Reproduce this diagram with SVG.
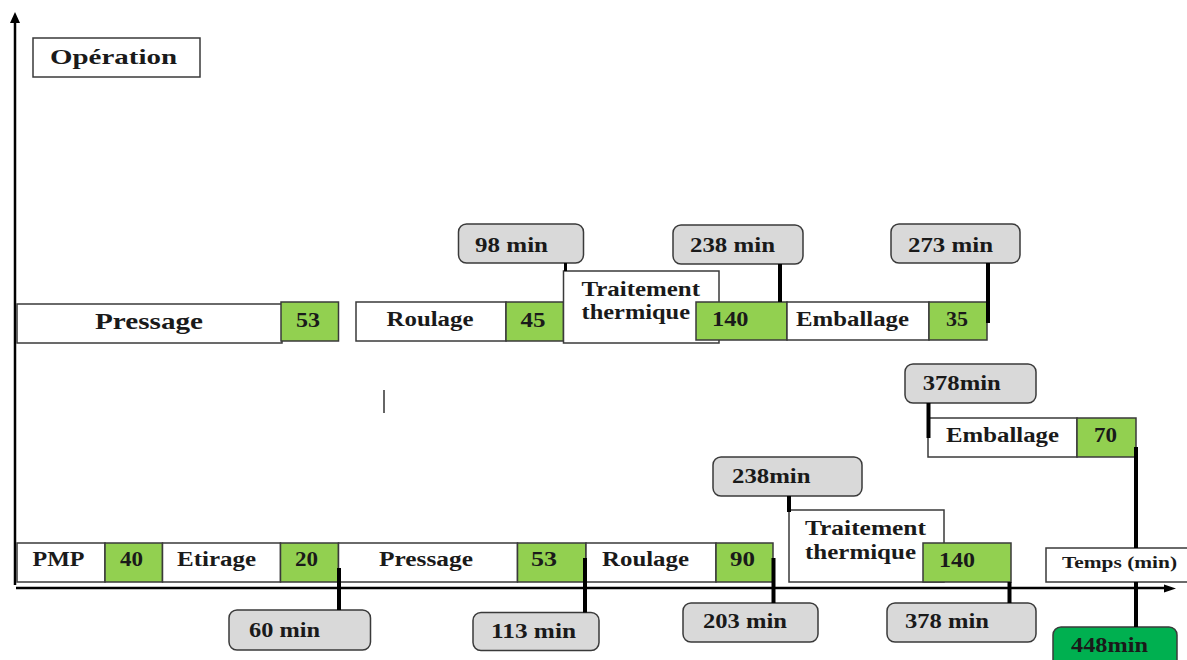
<svg xmlns="http://www.w3.org/2000/svg" width="1187" height="660" viewBox="0 0 1187 660">
<style>
.w{fill:#ffffff;stroke:#3a3a3a;stroke-width:1.5}
.g{fill:#92d050;stroke:#3a3a3a;stroke-width:1.5}
.c{fill:#d9d9d9;stroke:#3a3a3a;stroke-width:1.5}
.dg{fill:#00b050;stroke:#3a3a3a;stroke-width:1.5}
text{font-family:"Liberation Serif","Times New Roman",serif;font-weight:bold;font-size:20px;fill:#1a1a1a}
.big{font-size:24px}
.op{font-size:22px}
.sm{font-size:17px}
.k{stroke:#000;stroke-width:4;fill:none}
.ax{stroke:#000;stroke-width:2.5;fill:none}
</style>
<rect width="1187" height="660" fill="#ffffff"/>

<g id="axes">
<line class="ax" x1="15" y1="585" x2="15" y2="20"/>
<polygon points="15,12 10,23 20,23" fill="#000"/>
<line class="ax" x1="16" y1="588" x2="1166" y2="588"/>
<polygon points="1176,588.5 1164,584.5 1164,592.5" fill="#000"/>
</g>

<g id="operation-label">
<rect class="w" x="33" y="38" width="167" height="39"/>
<text class="op" x="50" y="64" textLength="127" lengthAdjust="spacingAndGlyphs">Opération</text>
</g>

<!-- top row -->
<g id="top-pressage">
<rect class="w" x="17" y="304" width="265" height="39"/>
<text class="big" x="95" y="329" textLength="108" lengthAdjust="spacingAndGlyphs">Pressage</text>
</g>
<g id="top-pressage-dur">
<rect class="g" x="281" y="302" width="57.5" height="39"/>
<text x="296" y="327" textLength="24" lengthAdjust="spacingAndGlyphs">53</text>
</g>
<g id="top-roulage">
<rect class="w" x="356" y="302" width="150" height="39"/>
<text x="386.5" y="326" textLength="87" lengthAdjust="spacingAndGlyphs">Roulage</text>
</g>
<g id="top-roulage-dur">
<rect class="g" x="506" y="302" width="57.5" height="39"/>
<text x="520.5" y="327" textLength="25" lengthAdjust="spacingAndGlyphs">45</text>
</g>
<g id="top-traitement">
<rect class="w" x="563.5" y="271" width="155.5" height="72"/>
<text x="581.5" y="296" textLength="118.5" lengthAdjust="spacingAndGlyphs">Traitement</text>
<text x="581.5" y="318.5" textLength="108.5" lengthAdjust="spacingAndGlyphs">thermique</text>
</g>
<g id="top-traitement-dur">
<rect class="g" x="696" y="302" width="91" height="38"/>
<text x="712" y="326" textLength="36.5" lengthAdjust="spacingAndGlyphs">140</text>
</g>
<g id="top-emballage">
<rect class="w" x="787" y="302" width="142" height="38"/>
<text x="796" y="326" textLength="113" lengthAdjust="spacingAndGlyphs">Emballage</text>
</g>
<g id="top-emballage-dur">
<rect class="g" x="929" y="302" width="58" height="38"/>
<text x="946" y="326" textLength="22" lengthAdjust="spacingAndGlyphs">35</text>
</g>
<g id="t98">
<rect class="c" x="458.5" y="224" width="125" height="39" rx="8"/>
<text x="475" y="251.5" textLength="73" lengthAdjust="spacingAndGlyphs">98 min</text>
</g>
<g id="t238a">
<rect class="c" x="673" y="225" width="130" height="39" rx="8"/>
<text x="690" y="251.5" textLength="85" lengthAdjust="spacingAndGlyphs">238 min</text>
</g>
<g id="t273">
<rect class="c" x="891" y="224" width="129" height="39" rx="8"/>
<text x="908" y="251.5" textLength="85" lengthAdjust="spacingAndGlyphs">273 min</text>
</g>

<!-- bottom row -->
<g id="b-pmp">
<rect class="w" x="17" y="543" width="88" height="39"/>
<text x="32.5" y="566" textLength="52" lengthAdjust="spacingAndGlyphs">PMP</text>
</g>
<g id="b-pmp-dur">
<rect class="g" x="105" y="543" width="57.5" height="39"/>
<text x="120" y="566" textLength="23" lengthAdjust="spacingAndGlyphs">40</text>
</g>
<g id="b-etirage">
<rect class="w" x="162.5" y="543" width="118" height="39"/>
<text x="177" y="566" textLength="79" lengthAdjust="spacingAndGlyphs">Etirage</text>
</g>
<g id="b-etirage-dur">
<rect class="g" x="280.5" y="543" width="58" height="39"/>
<text x="295" y="566" textLength="23" lengthAdjust="spacingAndGlyphs">20</text>
</g>
<g id="b-pressage">
<rect class="w" x="338.5" y="543" width="179" height="39"/>
<text x="379" y="566" textLength="94" lengthAdjust="spacingAndGlyphs">Pressage</text>
</g>
<g id="b-pressage-dur">
<rect class="g" x="517.5" y="543" width="68.5" height="39"/>
<text x="531" y="566" textLength="26" lengthAdjust="spacingAndGlyphs">53</text>
</g>
<g id="b-roulage">
<rect class="w" x="586" y="543" width="130" height="39"/>
<text x="602" y="566" textLength="87" lengthAdjust="spacingAndGlyphs">Roulage</text>
</g>
<g id="b-roulage-dur">
<rect class="g" x="716" y="543" width="57" height="39"/>
<text x="730" y="566" textLength="25" lengthAdjust="spacingAndGlyphs">90</text>
</g>
<g id="b-traitement">
<rect class="w" x="789" y="510" width="155" height="72"/>
<text x="805" y="535" textLength="121" lengthAdjust="spacingAndGlyphs">Traitement</text>
<text x="805" y="558.5" textLength="111" lengthAdjust="spacingAndGlyphs">thermique</text>
</g>
<g id="b-traitement-dur">
<rect class="g" x="923" y="543" width="88" height="39"/>
<text x="939" y="566.5" textLength="36" lengthAdjust="spacingAndGlyphs">140</text>
</g>
<g id="b-emballage">
<rect class="w" x="928" y="418" width="149" height="39"/>
<text x="946" y="442" textLength="113" lengthAdjust="spacingAndGlyphs">Emballage</text>
</g>
<g id="b-emballage-dur">
<rect class="g" x="1077" y="418" width="59" height="39"/>
<text x="1094" y="442" textLength="23" lengthAdjust="spacingAndGlyphs">70</text>
</g>
<g id="temps-label">
<rect class="w" x="1046" y="548" width="144" height="34"/>
<text class="sm" x="1062" y="568" textLength="115" lengthAdjust="spacingAndGlyphs">Temps (min)</text>
</g>
<g id="t60">
<rect class="c" x="229" y="610" width="141.5" height="40" rx="8"/>
<text x="249" y="637" textLength="71" lengthAdjust="spacingAndGlyphs">60 min</text>
</g>
<g id="t113">
<rect class="c" x="473" y="612.5" width="126" height="38" rx="8"/>
<text x="491" y="638" textLength="85" lengthAdjust="spacingAndGlyphs">113 min</text>
</g>
<g id="t203">
<rect class="c" x="683" y="603" width="135" height="39" rx="8"/>
<text x="703" y="628" textLength="84" lengthAdjust="spacingAndGlyphs">203 min</text>
</g>
<g id="t378b">
<rect class="c" x="887" y="603" width="149" height="39" rx="8"/>
<text x="905" y="628" textLength="84" lengthAdjust="spacingAndGlyphs">378 min</text>
</g>
<g id="t238b">
<rect class="c" x="713" y="457" width="149" height="39" rx="8"/>
<text x="732" y="483" textLength="78.5" lengthAdjust="spacingAndGlyphs">238min</text>
</g>
<g id="t378a">
<rect class="c" x="905" y="364" width="131" height="39" rx="8"/>
<text x="922.7" y="390" textLength="78" lengthAdjust="spacingAndGlyphs">378min</text>
</g>
<g id="t448">
<rect class="dg" x="1053" y="627" width="124" height="45" rx="8"/>
<text x="1071" y="652" textLength="77" lengthAdjust="spacingAndGlyphs">448min</text>
</g>

<g id="connectors">
<line class="k" x1="565.5" y1="263" x2="565.5" y2="271" style="stroke-width:3"/>
<line class="k" x1="780" y1="264" x2="780" y2="302"/>
<line class="k" x1="988" y1="263" x2="988" y2="323"/>
<line class="k" x1="339" y1="568" x2="339" y2="610"/>
<line class="k" x1="585" y1="558" x2="585" y2="612.5"/>
<line class="k" x1="773.5" y1="558" x2="773.5" y2="603"/>
<line class="k" x1="789" y1="496" x2="789" y2="512"/>
<line class="k" x1="1009.5" y1="582" x2="1009.5" y2="603"/>
<line class="k" x1="928.5" y1="403" x2="928.5" y2="438"/>
<line class="k" x1="1136" y1="447" x2="1136" y2="548"/>
<line class="k" x1="1136" y1="582" x2="1136" y2="627"/>
<line x1="384" y1="390" x2="384" y2="413" stroke="#333" stroke-width="1.5"/>
</g>
</svg>
